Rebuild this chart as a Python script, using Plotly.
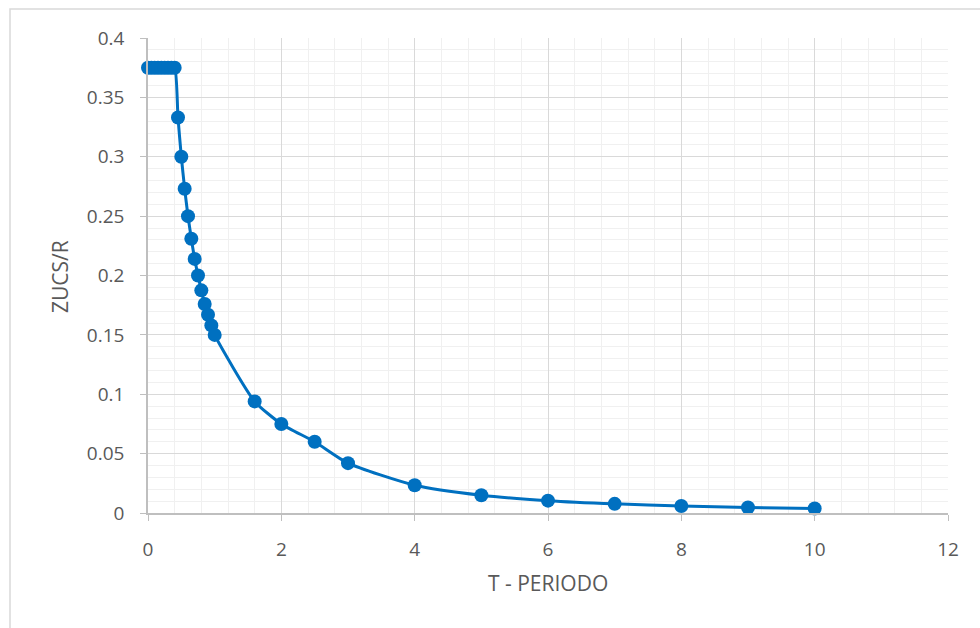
import plotly.graph_objects as go

periodo = [0.0, 0.05, 0.1, 0.15, 0.2, 0.25, 0.3, 0.35, 0.4,
           0.45, 0.5, 0.55, 0.6, 0.65, 0.7, 0.75, 0.8, 0.85, 0.9, 0.95, 1.0,
           1.6, 2.0, 2.5, 3.0, 4.0, 5.0, 6.0, 7.0, 8.0, 9.0, 10.0]
zucs_r = [0.375, 0.375, 0.375, 0.375, 0.375, 0.375, 0.375, 0.375, 0.375,
          0.333, 0.300, 0.273, 0.250, 0.231, 0.214, 0.200, 0.1875, 0.176, 0.167, 0.158, 0.150,
          0.094, 0.075, 0.060, 0.042, 0.0234, 0.015, 0.0104, 0.0077, 0.0059, 0.0046, 0.0038]

x_title = "T - PERIODO"
y_title = "ZUCS/R"

color = "#0070C0"
font = "Open Sans"
txt = "#595959"

fig = go.Figure()
fig.add_trace(go.Scatter(
    x=periodo, y=zucs_r, mode="lines+markers",
    line=dict(color=color, width=3, shape="spline", smoothing=0.6),
    marker=dict(color=color, size=14),
    showlegend=False, cliponaxis=False,
))

W, H = 980, 628
L, R, T, B = 148, 32, 38, 115
pw, ph = W - L - R, H - T - B

def px(xp):
    return (xp - L) / pw

def py(yp):
    return (H - B - yp) / ph

fig.add_shape(type="rect", xref="paper", yref="paper",
              x0=px(10), x1=px(995), y0=py(660), y1=py(9),
              line=dict(color="#D9D9D9", width=1.5), fillcolor="rgba(0,0,0,0)", layer="below")

fig.add_annotation(text=x_title, xref="paper", yref="paper", x=px(548), y=py(583),
                   xanchor="center", yanchor="middle", showarrow=False,
                   font=dict(family=font, size=21, color=txt))
fig.add_annotation(text=y_title, xref="paper", yref="paper", x=px(60), y=py(277),
                   xanchor="center", yanchor="middle", showarrow=False, textangle=-90,
                   font=dict(family=font, size=21, color=txt))

fig.update_layout(
    width=W, height=H,
    margin=dict(l=L, r=R, t=T, b=B, pad=0),
    paper_bgcolor="white", plot_bgcolor="white",
    font=dict(family=font, size=19, color=txt),
    xaxis=dict(
        range=[0, 12], dtick=2, tick0=0,
        showgrid=True, gridcolor="#D9D9D9", gridwidth=1,
        minor=dict(dtick=0.4, showgrid=True, gridcolor="#F0F0F0", gridwidth=1),
        showline=True, linecolor="#BFBFBF", linewidth=1.5,
        ticks="outside", ticklen=6, tickcolor="#BFBFBF",
        ticklabelstandoff=12,
        zeroline=False,
        tickfont=dict(family=font, size=19, color=txt),
    ),
    yaxis=dict(
        range=[0, 0.4], dtick=0.05, tick0=0,
        showgrid=True, gridcolor="#D9D9D9", gridwidth=1,
        minor=dict(dtick=0.01, showgrid=True, gridcolor="#F0F0F0", gridwidth=1),
        showline=True, linecolor="#BFBFBF", linewidth=1.5,
        ticks="outside", ticklen=6, tickcolor="#BFBFBF",
        ticklabelstandoff=12,
        zeroline=False,
        tickfont=dict(family=font, size=19, color=txt),
    ),
)

fig.write_html("out.html")
